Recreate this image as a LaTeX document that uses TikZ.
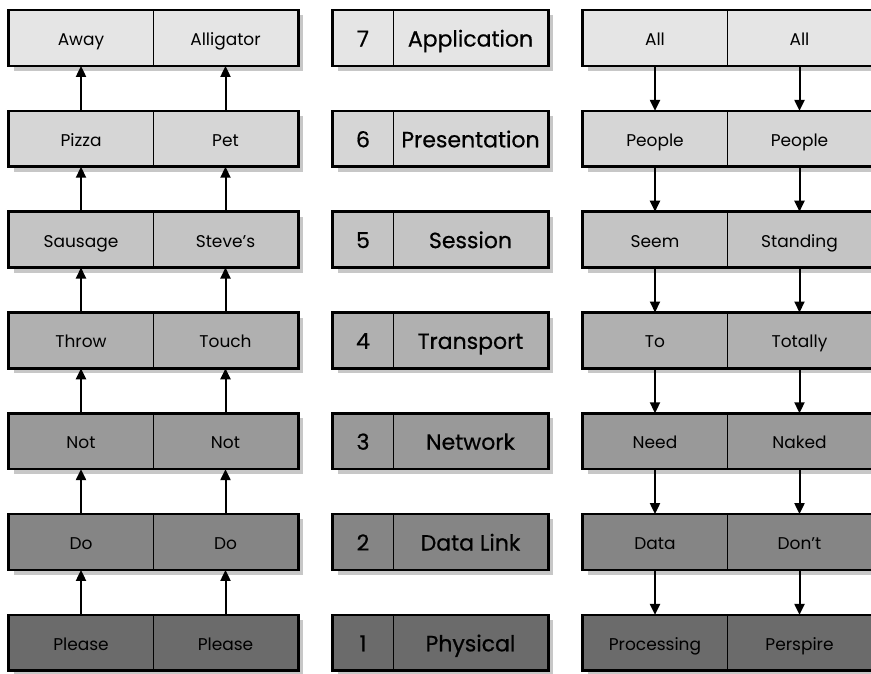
\documentclass[tikz,border=0pt]{standalone}
\usepackage{fontspec}
\setmainfont{Poppins}
\newfontfamily\layerfont{Poppins}[FakeBold=0.6]
\usetikzlibrary{arrows.meta}
\usetikzlibrary{shadows}
\usetikzlibrary{backgrounds}

\definecolor{gA}{gray}{0.90}
\definecolor{gB}{gray}{0.84}
\definecolor{gC}{gray}{0.77}
\definecolor{gD}{gray}{0.69}
\definecolor{gE}{gray}{0.60}
\definecolor{gF}{gray}{0.52}
\definecolor{gG}{gray}{0.42}

\tikzset{
	cell/.style={draw=black, line width=0.8pt, minimum height=55pt, inner sep=0pt, text height=18pt, text depth=3pt, font=\fontsize{17}{17}\selectfont},
	layerno/.style={cell, text height=21pt, text depth=4pt, font=\layerfont\fontsize{22}{22}\selectfont},
	frame/.style={draw=black, line width=2.6pt, drop shadow={shadow xshift=5pt, shadow yshift=-5pt, fill=black!22, opacity=1}},
	flow/.style={-{Triangle[length=11pt,width=10pt]}, line width=2pt},
}

\begin{document}
\begin{tikzpicture}[x=1pt,y=-1pt]
		\useasboundingbox (0,0) rectangle (871,673);
		
		% sending side
		\node[cell, minimum width=144pt] (l1a) at (81,38){Away};
		\node[cell, minimum width=145pt] (l1b) at (225.5,38){Alligator};
		\node[cell, minimum width=144pt] (l2a) at (81,138.8){Pizza};
		\node[cell, minimum width=145pt] (l2b) at (225.5,138.8){Pet};
		\node[cell, minimum width=144pt] (l3a) at (81,239.6){Sausage};
		\node[cell, minimum width=145pt] (l3b) at (225.5,239.6){Steve's};
		\node[cell, minimum width=144pt] (l4a) at (81,340.4){Throw};
		\node[cell, minimum width=145pt] (l4b) at (225.5,340.4){Touch};
		\node[cell, minimum width=144pt] (l5a) at (81,441.2){Not};
		\node[cell, minimum width=145pt] (l5b) at (225.5,441.2){Not};
		\node[cell, minimum width=144pt] (l6a) at (81,542){Do};
		\node[cell, minimum width=145pt] (l6b) at (225.5,542){Do};
		\node[cell, minimum width=144pt] (l7a) at (81,642.8){Please};
		\node[cell, minimum width=145pt] (l7b) at (225.5,642.8){Please};
		
		% layers
		\node[layerno, minimum width=60pt] (m1a) at (363,38){7};
		\node[layerno, minimum width=155pt] (m1b) at (470.5,38){Application};
		\node[layerno, minimum width=60pt] (m2a) at (363,138.8){6};
		\node[layerno, minimum width=155pt] (m2b) at (470.5,138.8){Presentation};
		\node[layerno, minimum width=60pt] (m3a) at (363,239.6){5};
		\node[layerno, minimum width=155pt] (m3b) at (470.5,239.6){Session};
		\node[layerno, minimum width=60pt] (m4a) at (363,340.4){4};
		\node[layerno, minimum width=155pt] (m4b) at (470.5,340.4){Transport};
		\node[layerno, minimum width=60pt] (m5a) at (363,441.2){3};
		\node[layerno, minimum width=155pt] (m5b) at (470.5,441.2){Network};
		\node[layerno, minimum width=60pt] (m6a) at (363,542){2};
		\node[layerno, minimum width=155pt] (m6b) at (470.5,542){Data Link};
		\node[layerno, minimum width=60pt] (m7a) at (363,642.8){1};
		\node[layerno, minimum width=155pt] (m7b) at (470.5,642.8){Physical};
		
		% receiving side
		\node[cell, minimum width=144pt] (r1a) at (655,38){All};
		\node[cell, minimum width=145pt] (r1b) at (799.5,38){All};
		\node[cell, minimum width=144pt] (r2a) at (655,138.8){People};
		\node[cell, minimum width=145pt] (r2b) at (799.5,138.8){People};
		\node[cell, minimum width=144pt] (r3a) at (655,239.6){Seem};
		\node[cell, minimum width=145pt] (r3b) at (799.5,239.6){Standing};
		\node[cell, minimum width=144pt] (r4a) at (655,340.4){To};
		\node[cell, minimum width=145pt] (r4b) at (799.5,340.4){Totally};
		\node[cell, minimum width=144pt] (r5a) at (655,441.2){Need};
		\node[cell, minimum width=145pt] (r5b) at (799.5,441.2){Naked};
		\node[cell, minimum width=144pt] (r6a) at (655,542){Data};
		\node[cell, minimum width=145pt] (r6b) at (799.5,542){Don't};
		\node[cell, minimum width=144pt] (r7a) at (655,642.8){Processing};
		\node[cell, minimum width=145pt] (r7b) at (799.5,642.8){Perspire};
		
		\begin{pgfonlayer}{background}
			\draw[frame, fill=gA] (l1a.north west) rectangle (l1b.south east);
			\draw[frame, fill=gB] (l2a.north west) rectangle (l2b.south east);
			\draw[frame, fill=gC] (l3a.north west) rectangle (l3b.south east);
			\draw[frame, fill=gD] (l4a.north west) rectangle (l4b.south east);
			\draw[frame, fill=gE] (l5a.north west) rectangle (l5b.south east);
			\draw[frame, fill=gF] (l6a.north west) rectangle (l6b.south east);
			\draw[frame, fill=gG] (l7a.north west) rectangle (l7b.south east);
			
			\draw[frame, fill=gA] (m1a.north west) rectangle (m1b.south east);
			\draw[frame, fill=gB] (m2a.north west) rectangle (m2b.south east);
			\draw[frame, fill=gC] (m3a.north west) rectangle (m3b.south east);
			\draw[frame, fill=gD] (m4a.north west) rectangle (m4b.south east);
			\draw[frame, fill=gE] (m5a.north west) rectangle (m5b.south east);
			\draw[frame, fill=gF] (m6a.north west) rectangle (m6b.south east);
			\draw[frame, fill=gG] (m7a.north west) rectangle (m7b.south east);
			
			\draw[frame, fill=gA] (r1a.north west) rectangle (r1b.south east);
			\draw[frame, fill=gB] (r2a.north west) rectangle (r2b.south east);
			\draw[frame, fill=gC] (r3a.north west) rectangle (r3b.south east);
			\draw[frame, fill=gD] (r4a.north west) rectangle (r4b.south east);
			\draw[frame, fill=gE] (r5a.north west) rectangle (r5b.south east);
			\draw[frame, fill=gF] (r6a.north west) rectangle (r6b.south east);
			\draw[frame, fill=gG] (r7a.north west) rectangle (r7b.south east);
		\end{pgfonlayer}
		
		% up the stack
		\draw[flow] (l7a.north) -- (l6a.south);
		\draw[flow] (l7b.north) -- (l6b.south);
		\draw[flow] (l6a.north) -- (l5a.south);
		\draw[flow] (l6b.north) -- (l5b.south);
		\draw[flow] (l5a.north) -- (l4a.south);
		\draw[flow] (l5b.north) -- (l4b.south);
		\draw[flow] (l4a.north) -- (l3a.south);
		\draw[flow] (l4b.north) -- (l3b.south);
		\draw[flow] (l3a.north) -- (l2a.south);
		\draw[flow] (l3b.north) -- (l2b.south);
		\draw[flow] (l2a.north) -- (l1a.south);
		\draw[flow] (l2b.north) -- (l1b.south);
		
		% down the stack
		\draw[flow] (r1a.south) -- (r2a.north);
		\draw[flow] (r1b.south) -- (r2b.north);
		\draw[flow] (r2a.south) -- (r3a.north);
		\draw[flow] (r2b.south) -- (r3b.north);
		\draw[flow] (r3a.south) -- (r4a.north);
		\draw[flow] (r3b.south) -- (r4b.north);
		\draw[flow] (r4a.south) -- (r5a.north);
		\draw[flow] (r4b.south) -- (r5b.north);
		\draw[flow] (r5a.south) -- (r6a.north);
		\draw[flow] (r5b.south) -- (r6b.north);
		\draw[flow] (r6a.south) -- (r7a.north);
		\draw[flow] (r6b.south) -- (r7b.north);
	\end{tikzpicture}
\end{document}
